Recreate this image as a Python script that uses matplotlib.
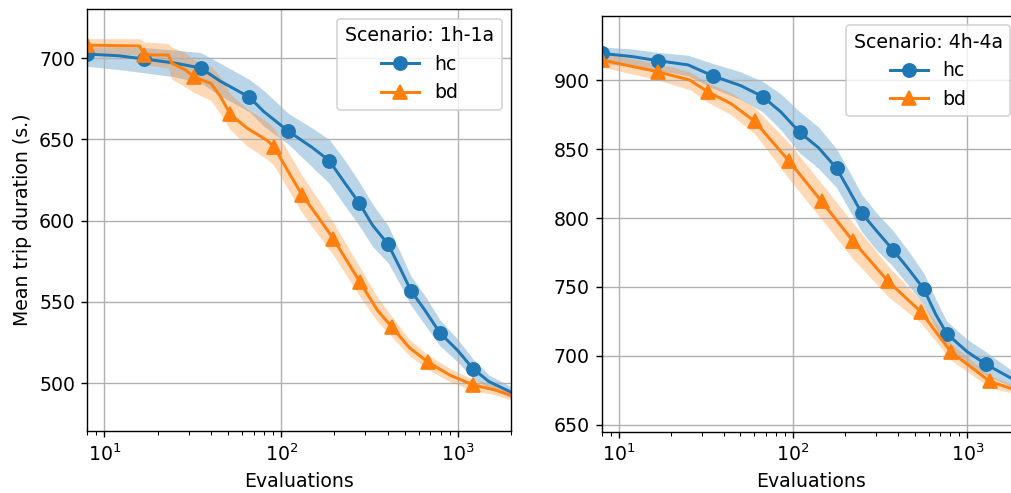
import matplotlib
matplotlib.use("Agg")
import matplotlib.pyplot as plt

# scenario 1h-1a, hc
hc1_x = [8, 12, 16.8, 25, 35, 45, 66, 80, 110, 150, 187, 230, 276, 330, 403, 470, 542, 650, 791, 1000, 1216, 1500, 2000]
hc1_y = [702.5, 701.5, 699.5, 697, 694, 686, 676, 667, 655, 645, 637, 623, 611, 597, 585.5, 571, 557, 545, 531, 520, 509, 501, 494.5]
hc1_lo = [695, 693, 691, 688.5, 685, 677, 667, 658, 647, 633, 623, 609, 597, 584, 574, 561, 548, 536, 523, 513, 503, 497, 491]
hc1_hi = [707, 707, 706.5, 705, 703.5, 697, 687, 680, 666, 657, 650, 637, 624, 610, 597, 581, 566, 554, 539, 527, 515, 505, 498]
hc1_marks = [8, 16.8, 35, 66, 110, 187, 276, 403, 542, 791, 1216]

# scenario 1h-1a, bd
bd1_x = [8, 15.8, 16.8, 23, 24, 29, 32, 40, 45, 51.5, 64, 83, 91, 110, 131, 160, 197, 280, 350, 424, 530, 677, 900, 1216, 1600, 2018]
bd1_y = [708, 707.5, 702, 702, 697, 692.5, 688.5, 684.5, 677, 665.5, 657, 649.5, 645.5, 630, 616, 603, 589, 562, 545, 534.5, 522, 513, 505, 499, 496, 492.5]
bd1_lo = [703, 702, 696, 694, 687, 682, 679, 674, 666, 656, 646, 638, 634, 619, 605, 592, 579, 553, 538, 528.5, 517, 508.5, 501, 495.5, 493, 489.5]
bd1_hi = [712, 712, 710, 709, 707, 703, 699, 695, 689, 678, 669, 661, 657, 642, 628, 614, 599, 571, 553, 541, 527, 517.5, 509, 502.5, 499, 495.5]
bd1_marks = [8, 16.8, 32, 51.5, 91, 131, 197, 280, 424, 677, 1216]

# scenario 4h-4a, hc
hc4_x = [8, 12, 16.8, 25, 34.7, 50, 67, 85, 109.5, 140, 178, 210, 248, 300, 374, 460, 563, 660, 764, 1000, 1279, 1778, 2000]
hc4_y = [919.3, 917, 914, 911, 903, 896, 888, 877, 862, 851, 836, 820, 803.5, 791, 777, 763, 748.5, 730, 716, 703, 694, 684, 682]
hc4_lo = [912, 910, 907, 903, 894, 886, 877, 864, 847, 836, 822, 806, 790, 777, 765, 751, 737, 720, 707, 694, 686, 678, 677]
hc4_hi = [924, 922.5, 920, 918, 912, 906, 899, 890, 877, 866, 850, 834, 817, 804, 791, 776, 760, 741, 725, 712, 703, 690, 688]
hc4_marks = [8, 16.8, 34.7, 67, 109.5, 178, 248, 374, 563, 764, 1279]

# scenario 4h-4a, bd
bd4_x = [8, 16.8, 25.6, 32.4, 44, 60.4, 95.3, 146, 222, 352, 542, 805, 1349, 1778, 2000]
bd4_y = [914.5, 906, 900, 891.5, 883, 870, 841, 812, 783, 754, 732, 703, 681.5, 676.5, 675.5]
bd4_lo = [909.5, 900, 893, 884, 875, 861, 828, 799, 770, 743, 724, 697, 677, 673.5, 672.5]
bd4_hi = [919.5, 912, 906, 898, 891, 880, 854, 825, 796, 765, 740, 709, 686, 679.5, 678.5]
bd4_marks = [8, 16.8, 32.4, 60.4, 95.3, 146, 222, 352, 542, 805, 1349]

scenarios = ["1h-1a", "4h-4a"]
ylims = [(470.6, 730.1), (645.1, 946.4)]

plt.rcParams["font.size"] = 10.8

dpi = 126
fig = plt.figure(figsize=(1011 / dpi, 493 / dpi), dpi=dpi)
ax1 = fig.add_axes([0.0864, 0.1258, 0.4191, 0.8554])
ax2 = fig.add_axes([0.5952, 0.1243, 0.4135, 0.8432])


def plot_run(ax, x, y, lo, hi, marks, label, color, marker):
    ax.fill_between(x, lo, hi, color=color, alpha=0.3, linewidth=0)
    idx = [x.index(m) for m in marks]
    ax.plot(x, y, color=color, marker=marker, markevery=idx, markersize=7.5,
            linewidth=1.7, label=label)


runs = [
    (ax1, (hc1_x, hc1_y, hc1_lo, hc1_hi, hc1_marks), (bd1_x, bd1_y, bd1_lo, bd1_hi, bd1_marks)),
    (ax2, (hc4_x, hc4_y, hc4_lo, hc4_hi, hc4_marks), (bd4_x, bd4_y, bd4_lo, bd4_hi, bd4_marks)),
]

for i, (ax, hc, bd) in enumerate(runs):
    plot_run(ax, *hc, "hc", "#1f77b4", "o")
    plot_run(ax, *bd, "bd", "#ff7f0e", "^")
    ax.set_xscale("log")
    ax.set_xlim(8, 2000)
    ax.set_ylim(*ylims[i])
    ax.grid(True)
    ax.set_xlabel("Evaluations")
    ax.legend(title=f"Scenario: {scenarios[i]}", loc="upper right")

ax1.set_ylabel("Mean trip duration (s.)")

fig.savefig("out.png", dpi=dpi)
